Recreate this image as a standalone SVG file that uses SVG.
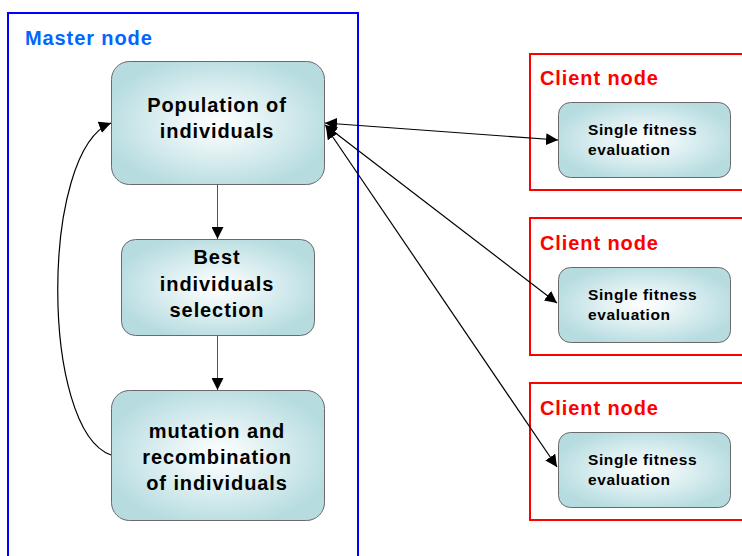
<svg xmlns="http://www.w3.org/2000/svg" width="742" height="556" viewBox="0 0 742 556">
<style>
.frameM{fill:none;stroke:#0000ff;stroke-width:2}
.frameC{fill:none;stroke:#ff0000;stroke-width:2}
.box{fill:url(#g);stroke:#6a6a6a;stroke-width:1}
.t{font-family:"Liberation Sans",Arial,sans-serif;font-weight:bold;fill:#000}
.big{font-size:20px;letter-spacing:0.9px;text-anchor:middle}
.sm{font-size:15.5px;letter-spacing:0.6px}
.lblM{font-family:"Liberation Sans",Arial,sans-serif;font-weight:bold;font-size:20px;letter-spacing:0.9px;fill:#0066ff}
.lblC{font-family:"Liberation Sans",Arial,sans-serif;font-weight:bold;font-size:20px;letter-spacing:0.9px;fill:#ff0000}
.c{fill:none;stroke:#000;stroke-width:1.2}
.v{fill:none;stroke:#555;stroke-width:1}
</style>
<defs>
<radialGradient id="g" cx="0.5" cy="0.5" r="0.55">
<stop offset="0" stop-color="#ffffff"/>
<stop offset="0.2" stop-color="#f2f9fa"/>
<stop offset="1" stop-color="#b6dce0"/>
</radialGradient>
<marker id="ah" viewBox="0 0 10 10" refX="10" refY="5" markerWidth="12" markerHeight="12" markerUnits="userSpaceOnUse" orient="auto-start-reverse">
<path d="M0,0 L10,5 L0,10 z" fill="#000"/>
</marker>
</defs>
<rect width="742" height="556" fill="#fff"/>
<g id="master">
<rect class="frameM" x="8" y="13" width="350" height="560"/>
<text class="lblM" x="25" y="45">Master node</text>
</g>
<g id="population">
<rect class="box" x="111.5" y="61.5" width="213" height="123" rx="18"/>
<text class="t big" x="217" y="112">Population of</text>
<text class="t big" x="217" y="138">individuals</text>
</g>
<g id="selection">
<rect class="box" x="121.5" y="239.5" width="193" height="96" rx="14"/>
<text class="t big" x="217" y="264">Best</text>
<text class="t big" x="217" y="291">individuals</text>
<text class="t big" x="217" y="317">selection</text>
</g>
<g id="mutation">
<rect class="box" x="111.5" y="390.5" width="213" height="130" rx="18"/>
<text class="t big" x="217" y="438">mutation and</text>
<text class="t big" x="217" y="464">recombination</text>
<text class="t big" x="217" y="490">of individuals</text>
</g>
<g id="client1">
<rect class="frameC" x="530" y="54" width="230" height="136"/>
<text class="lblC" x="540" y="85">Client node</text>
<rect class="box" x="558.5" y="102.5" width="172" height="75" rx="12"/>
<text class="t sm" x="588" y="135">Single fitness</text>
<text class="t sm" x="588" y="155">evaluation</text>
</g>
<g id="client2">
<rect class="frameC" x="530" y="218" width="230" height="137"/>
<text class="lblC" x="540" y="250">Client node</text>
<rect class="box" x="558.5" y="267.5" width="172" height="75" rx="12"/>
<text class="t sm" x="588" y="300">Single fitness</text>
<text class="t sm" x="588" y="320">evaluation</text>
</g>
<g id="client3">
<rect class="frameC" x="530" y="383" width="230" height="137"/>
<text class="lblC" x="540" y="415">Client node</text>
<rect class="box" x="558.5" y="432.5" width="172" height="75" rx="12"/>
<text class="t sm" x="588" y="465">Single fitness</text>
<text class="t sm" x="588" y="485">evaluation</text>
</g>
<g id="connectors">
<path class="v" d="M217.5,184.5 L217.5,239" marker-end="url(#ah)"/>
<path class="v" d="M217.5,336 L217.5,390" marker-end="url(#ah)"/>
<path class="c" d="M111,455 C40,430 40,150 111,123" marker-end="url(#ah)"/>
<path class="c" d="M325,123 L558,140" marker-start="url(#ah)" marker-end="url(#ah)"/>
<path class="c" d="M325,125 L557,303" marker-start="url(#ah)" marker-end="url(#ah)"/>
<path class="c" d="M326,127 L557,467" marker-start="url(#ah)" marker-end="url(#ah)"/>
</g>
</svg>
